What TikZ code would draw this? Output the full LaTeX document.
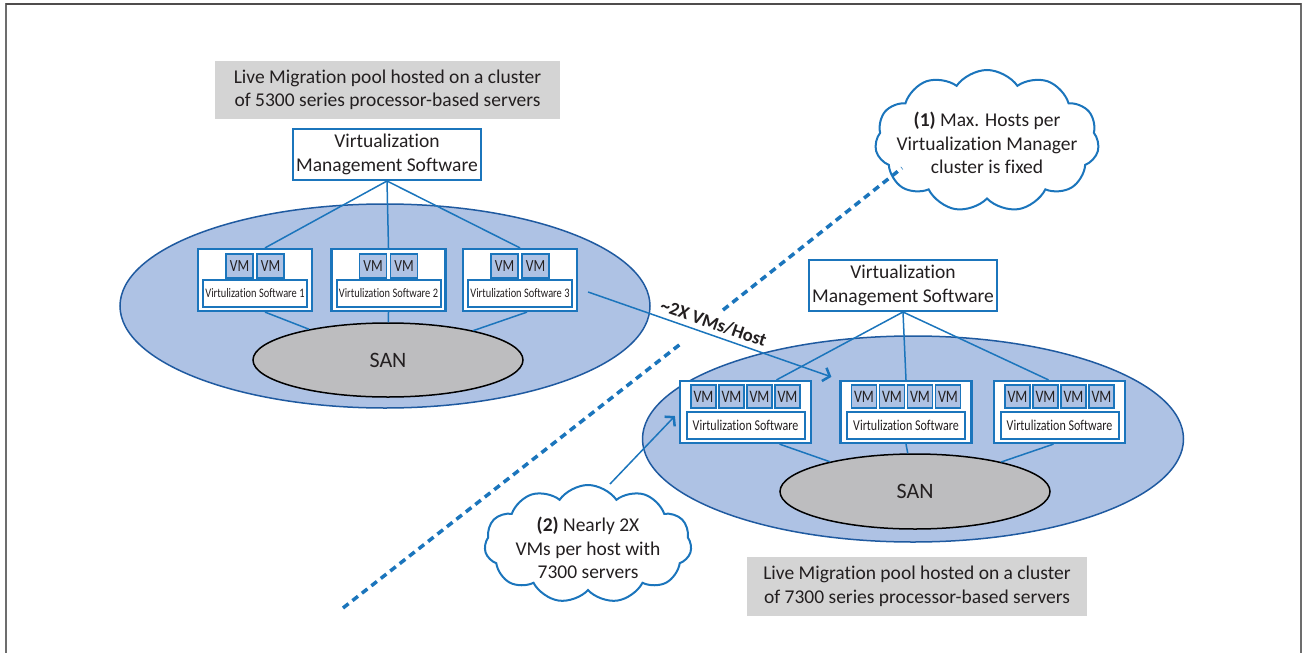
\documentclass[tikz,border=0pt]{standalone}
\usepackage{fontspec}
\setmainfont{Carlito}[Ligatures=NoCommon]
\newfontfamily\narrowfont{Carlito}[FakeStretch=0.8,Ligatures=NoCommon]
\usetikzlibrary{arrows.meta,positioning,shapes.geometric,shapes.symbols}
\definecolor{Line}{HTML}{1B75BC}
\definecolor{Pool}{HTML}{AEC2E4}
\definecolor{PoolEdge}{HTML}{1F5AA0}
\definecolor{SanGray}{HTML}{BDBDBF}
\definecolor{NoteGray}{HTML}{D4D4D4}
\definecolor{Ink}{HTML}{231F20}
\definecolor{Frame}{HTML}{6D6D6D}
\tikzset{
  base/.style={font=\fontsize{19.5}{23.5}\selectfont, text=Ink, align=center},
  mgmt/.style={base, draw=Line, line width=2, fill=white, minimum width=188, minimum height=51, inner sep=0},
  pool/.style={ellipse, draw=PoolEdge, line width=1.5, fill=Pool, inner sep=0},
  san/.style={ellipse, draw=black, line width=1.5, fill=SanGray, inner sep=0, text=Ink, font=\fontsize{22}{26}\selectfont},
  host/.style={draw=Line, line width=2.2, fill=white, inner sep=0, minimum height=62},
  vm/.style={draw=Line, line width=1.5, fill=Pool, inner sep=0, text=Ink},
  swbox/.style={draw=Line, line width=2, fill=white, inner sep=0, minimum height=27, text=Ink},
  note/.style={base, fill=NoteGray, inner sep=0},
  link/.style={Line, line width=1.5},
  callout/.style={cloud, cloud puffs=11, cloud puff arc=110, draw=Line, line width=2, fill=white, inner sep=0},
  divider/.style={Line, line width=3.5, dash pattern=on 7pt off 5pt},
  barb/.style={-{Straight Barb[length=6pt,width=14pt,line width=2.5pt]}},
}
\begin{document}
\begin{tikzpicture}[x=1pt,y=-1pt]
  \useasboundingbox (0,0) rectangle (1304,653);
  % frame
  \draw[Frame, line width=2.5] (6,660) -- (6,4) -- (1301,4) -- (1301,660);
  \draw[Ink!80, line width=1.5] (6,4) -- (1301,4);

  % 5300 cluster
  \node[note, minimum width=345, minimum height=58] (noteL) at (387.5,90)
    {Live Migration pool hosted on a cluster\\of 5300 series processor-based servers};
  \node[mgmt] (mgmtL) at (387,154.5) {Virtualization\\Management Software};
  \node[pool, minimum width=530, minimum height=204] (poolL) at (385,306) {};
  \node[san, minimum width=270, minimum height=74] (sanL) at (388,360) {SAN};
  \foreach \i/\x in {1/255,2/388.5,3/520} {
    \node[host, minimum width=114] (hL\i) at (\x,280) {};
  }
  \draw[link] (mgmtL.south) -- ([xshift=10pt]hL1.north);
  \draw[link] (mgmtL.south) -- (hL2.north);
  \draw[link] (mgmtL.south) -- (hL3.north);
  \draw[link] ([xshift=10pt]hL1.south) -- (sanL);
  \draw[link] (hL2.south) -- (sanL);
  \draw[link] ([xshift=7pt]hL3.south) -- (sanL);
  \foreach \i/\x in {1/255,2/388.5,3/520} {
    \node[host, minimum width=114] at (\x,280) {};
    \node[vm, minimum width=27, minimum height=24, font=\narrowfont\fontsize{17}{17}\selectfont] (vmL\i a) at (\x-15.5,266) {VM};
    \node[vm, minimum width=27, minimum height=24, font=\narrowfont\fontsize{17}{17}\selectfont] (vmL\i b) at (\x+15.5,266) {VM};
    \node[swbox, minimum width=104, font=\narrowfont\fontsize{13}{13}\selectfont] (swL\i) at (\x,293.5) {Virtulization Software \i};
  }

  % 7300 cluster
  \node[mgmt] (mgmtR) at (903,285.5) {Virtualization\\Management Software};
  \node[pool, minimum width=541, minimum height=206] (poolR) at (913,439) {};
  \node[san, minimum width=270, minimum height=75] (sanR) at (915,491.5) {SAN};
  \foreach \i/\x in {1/745.5,2/906,3/1059.5} {
    \node[host, minimum width=131] (hR\i) at (\x,412) {};
  }
  \draw[link] (mgmtR.south) -- ([xshift=31pt]hR1.north);
  \draw[link] (mgmtR.south) -- (hR2.north);
  \draw[link] (mgmtR.south) -- ([xshift=-11pt]hR3.north);
  \draw[link] ([xshift=34pt]hR1.south) -- (sanR);
  \draw[link] (hR2.south) -- (sanR);
  \draw[link] ([xshift=-6pt]hR3.south) -- (sanR);
  \foreach \i/\x in {1/745.5,2/906,3/1059.5} {
    \node[host, minimum width=131] at (\x,412) {};
    \foreach \k/\d in {a/-42,b/-14,c/14,d/42} {
      \node[vm, minimum width=25, minimum height=23, font=\narrowfont\fontsize{17.5}{17.5}\selectfont] (vmR\i\k) at (\x+\d,396.5) {VM};
    }
    \node[swbox, minimum width=118, font=\narrowfont\fontsize{15}{15}\selectfont] (swR\i) at (\x,425.5) {Virtulization Software};
  }
  \node[note, minimum width=340, minimum height=59] (noteR) at (917,586.5)
    {Live Migration pool hosted on a cluster\\of 7300 series processor-based servers};

  % migration arrow
  \draw[link, barb] ([xshift=10pt,yshift=-12pt]hL3.east) -- ([xshift=-8pt,yshift=3pt]hR2.north west)
    node[pos=0.5, sloped, above=1pt, font=\fontsize{18.5}{20}\selectfont\bfseries, text=Ink] (gain) {\textasciitilde 2X VMs/Host};

  % callouts
  \node[callout, minimum width=224, minimum height=142] (cloudOne) at (987,141) {};
  \node[base] (cloudOneText) at (987,143) {\textbf{(1)} Max. Hosts per\\Virtualization Manager\\cluster is fixed};
  \node[callout, minimum width=207, minimum height=118] (cloudTwo) at (588,544) {};
  \node[base] (cloudTwoText) at (588,548) {\textbf{(2)} Nearly 2X\\VMs per host with\\7300 servers};
  \draw[link, barb] ([xshift=22pt]cloudTwo.north) -- ([xshift=-4pt,yshift=-4pt]hR1.west);

  % divider
  \coordinate (divA) at (343,608);
  \coordinate (divB) at (683,342);
  \coordinate (divC) at (723,310);
  \coordinate (divD) at (902,168);
  \draw[divider] (divA) -- (divB);
  \draw[divider] (divC) -- (divD);
\end{tikzpicture}
\end{document}
